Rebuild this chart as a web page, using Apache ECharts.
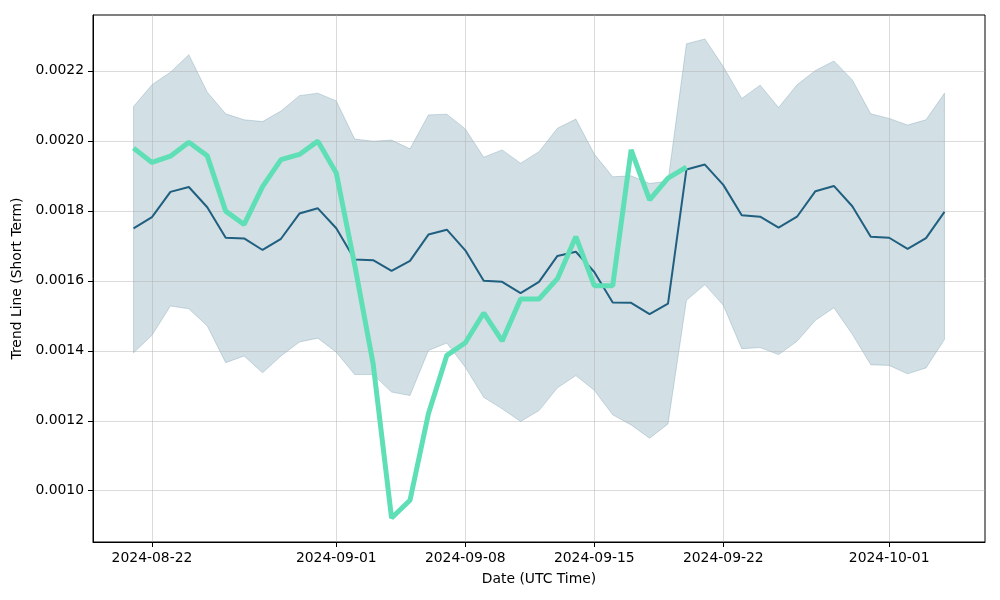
<!DOCTYPE html>
<html><head><meta charset="utf-8">
<script src="https://cdn.jsdelivr.net/npm/echarts@6/dist/echarts.min.js"></script>
<style>html,body{margin:0;padding:0;background:#fff}#c{width:1000px;height:600px}</style>
</head><body><div id="c"></div>
<script>
const dates = ['2024-08-21','2024-08-22','2024-08-23','2024-08-24','2024-08-25','2024-08-26','2024-08-27','2024-08-28','2024-08-29','2024-08-30','2024-08-31',
'2024-09-01','2024-09-02','2024-09-03','2024-09-04','2024-09-05','2024-09-06','2024-09-07','2024-09-08','2024-09-09','2024-09-10',
'2024-09-11','2024-09-12','2024-09-13','2024-09-14','2024-09-15','2024-09-16','2024-09-17','2024-09-18','2024-09-19','2024-09-20',
'2024-09-21','2024-09-22','2024-09-23','2024-09-24','2024-09-25','2024-09-26','2024-09-27','2024-09-28','2024-09-29','2024-09-30',
'2024-10-01','2024-10-02','2024-10-03','2024-10-04'];
const meanValues = [0.001750,0.001782,0.001854,0.001868,0.001810,0.001723,0.001721,0.001688,0.001720,0.001792,0.001807,
0.001750,0.001661,0.001659,0.001628,0.001657,0.001732,0.001746,0.001687,0.001600,0.001597,
0.001565,0.001597,0.001671,0.001683,0.001625,0.001538,0.001537,0.001505,0.001535,0.001918,
0.001932,0.001874,0.001787,0.001783,0.001752,0.001783,0.001856,0.001871,0.001813,0.001726,
0.001723,0.001691,0.001722,0.001797];
const upperValues = [0.002098,0.002160,0.002196,0.002246,0.002139,0.002077,0.002060,0.002055,0.002085,0.002129,0.002136,
0.002114,0.002005,0.001999,0.002002,0.001977,0.002074,0.002076,0.002034,0.001953,0.001974,
0.001936,0.001969,0.002036,0.002062,0.001962,0.001897,0.001900,0.001878,0.001885,0.002277,
0.002291,0.002212,0.002121,0.002159,0.002095,0.002160,0.002201,0.002228,0.002174,0.002077,
0.002064,0.002045,0.002060,0.002136];
const lowerValues = [0.001394,0.001444,0.001528,0.001520,0.001471,0.001366,0.001385,0.001337,0.001385,0.001425,0.001436,
0.001396,0.001332,0.001332,0.001282,0.001272,0.001401,0.001422,0.001353,0.001267,0.001234,
0.001198,0.001229,0.001294,0.001329,0.001287,0.001217,0.001188,0.001150,0.001191,0.001544,
0.001589,0.001530,0.001406,0.001409,0.001389,0.001427,0.001487,0.001523,0.001447,0.001360,
0.001358,0.001334,0.001351,0.001432];
const trendValues = [0.001979,0.001938,0.001956,0.001996,0.001957,0.001799,0.001761,0.001869,0.001946,0.001961,0.001999,
0.001908,0.001645,0.001363,0.000922,0.000973,0.001220,0.001387,0.001423,0.001508,0.001428,
0.001548,0.001548,0.001606,0.001726,0.001586,0.001586,0.001974,0.001831,0.001893,0.001925];
const xTickLabels = ['2024-08-22','2024-09-01','2024-09-08','2024-09-15','2024-09-22','2024-10-01'];
const yTickLabels = ['0.0010','0.0012','0.0014','0.0016','0.0018','0.0020','0.0022'];

const toTs = s => Date.parse(s + 'T00:00:00Z');
const xs = dates.map(toTs);
const xTicks = xTickLabels.map(toTs);
const yTicks = yTickLabels.map(Number);
const xMin = xs[0] - 0.05 * (xs[xs.length-1] - xs[0]);
const xMax = xs[xs.length-1] + 0.05 * (xs[xs.length-1] - xs[0]);
const allY = lowerValues.concat(upperValues, trendValues);
const yLo = Math.min.apply(null, allY), yHi = Math.max.apply(null, allY);
const yMin = yLo - 0.05 * (yHi - yLo), yMax = yHi + 0.05 * (yHi - yLo);

const FONT = 'DejaVu Sans';
const FS = 13.9;
const bandColor = 'rgba(31,95,127,0.2)';
const gridColor = 'rgba(176,176,176,0.45)';
const fmtDate = v => new Date(v).toISOString().slice(0,10);

const bandData = xs.map((x,i) => [x, lowerValues[i], upperValues[i]]);

const chart = echarts.init(document.getElementById('c'), null, {renderer:'canvas'});
chart.setOption({
  animation: false,
  backgroundColor: '#fff',
  textStyle: {fontFamily: FONT},
  grid: {left: 93, right: 15, top: 15, bottom: 58, show: true, borderColor: '#000', borderWidth: 1, backgroundColor: 'transparent'},
  xAxis: {
    type: 'value', min: xMin, max: xMax,
    name: 'Date (UTC Time)', nameLocation: 'middle', nameGap: 30,
    nameTextStyle: {fontFamily: FONT, fontSize: FS, color: '#000'},
    axisLine: {onZero: false, lineStyle: {color: '#000', width: 1}},
    axisTick: {show: true, customValues: xTicks, length: 5, lineStyle: {color: '#000', width: 1}},
    axisLabel: {customValues: xTicks, formatter: fmtDate, margin: 9, fontFamily: FONT, fontSize: FS, color: '#000'},
    splitLine: {show: true, lineStyle: {color: gridColor, width: 1}}
  },
  yAxis: {
    type: 'value', min: yMin, max: yMax,
    name: 'Trend Line (Short Term)', nameLocation: 'middle', nameGap: 65,
    nameTextStyle: {fontFamily: FONT, fontSize: FS, color: '#000'},
    axisLine: {show: true, onZero: false, lineStyle: {color: '#000', width: 1}},
    axisTick: {show: true, customValues: yTicks, length: 5, lineStyle: {color: '#000', width: 1}},
    axisLabel: {customValues: yTicks, formatter: v => v.toFixed(4), margin: 9, fontFamily: FONT, fontSize: FS, color: '#000'},
    splitLine: {show: true, lineStyle: {color: gridColor, width: 1}}
  },
  series: [
    {type: 'custom', name: 'band', silent: true, z: -1,
     data: bandData,
     encode: {x: 0, y: [1, 2]},
     renderItem: function (params, api) {
       if (params.dataIndex !== 0) return null;
       const upper = bandData.map(d => api.coord([d[0], d[2]]));
       const lower = bandData.map(d => api.coord([d[0], d[1]])).reverse();
       return {
         type: 'polygon',
         shape: {points: upper.concat(lower)},
         style: {fill: bandColor, stroke: bandColor, lineWidth: 1}
       };
     }},
    {type: 'line', name: 'mean', symbol: 'none',
     data: xs.map((x,i) => [x, meanValues[i]]),
     lineStyle: {color: '#1f5f7f', width: 2}, z: 3},
    {type: 'line', name: 'trend', symbol: 'none',
     data: trendValues.map((v,i) => [xs[i], v]),
     lineStyle: {color: '#5fdfb5', width: 5}, z: 4}
  ]
});
</script></body></html>
